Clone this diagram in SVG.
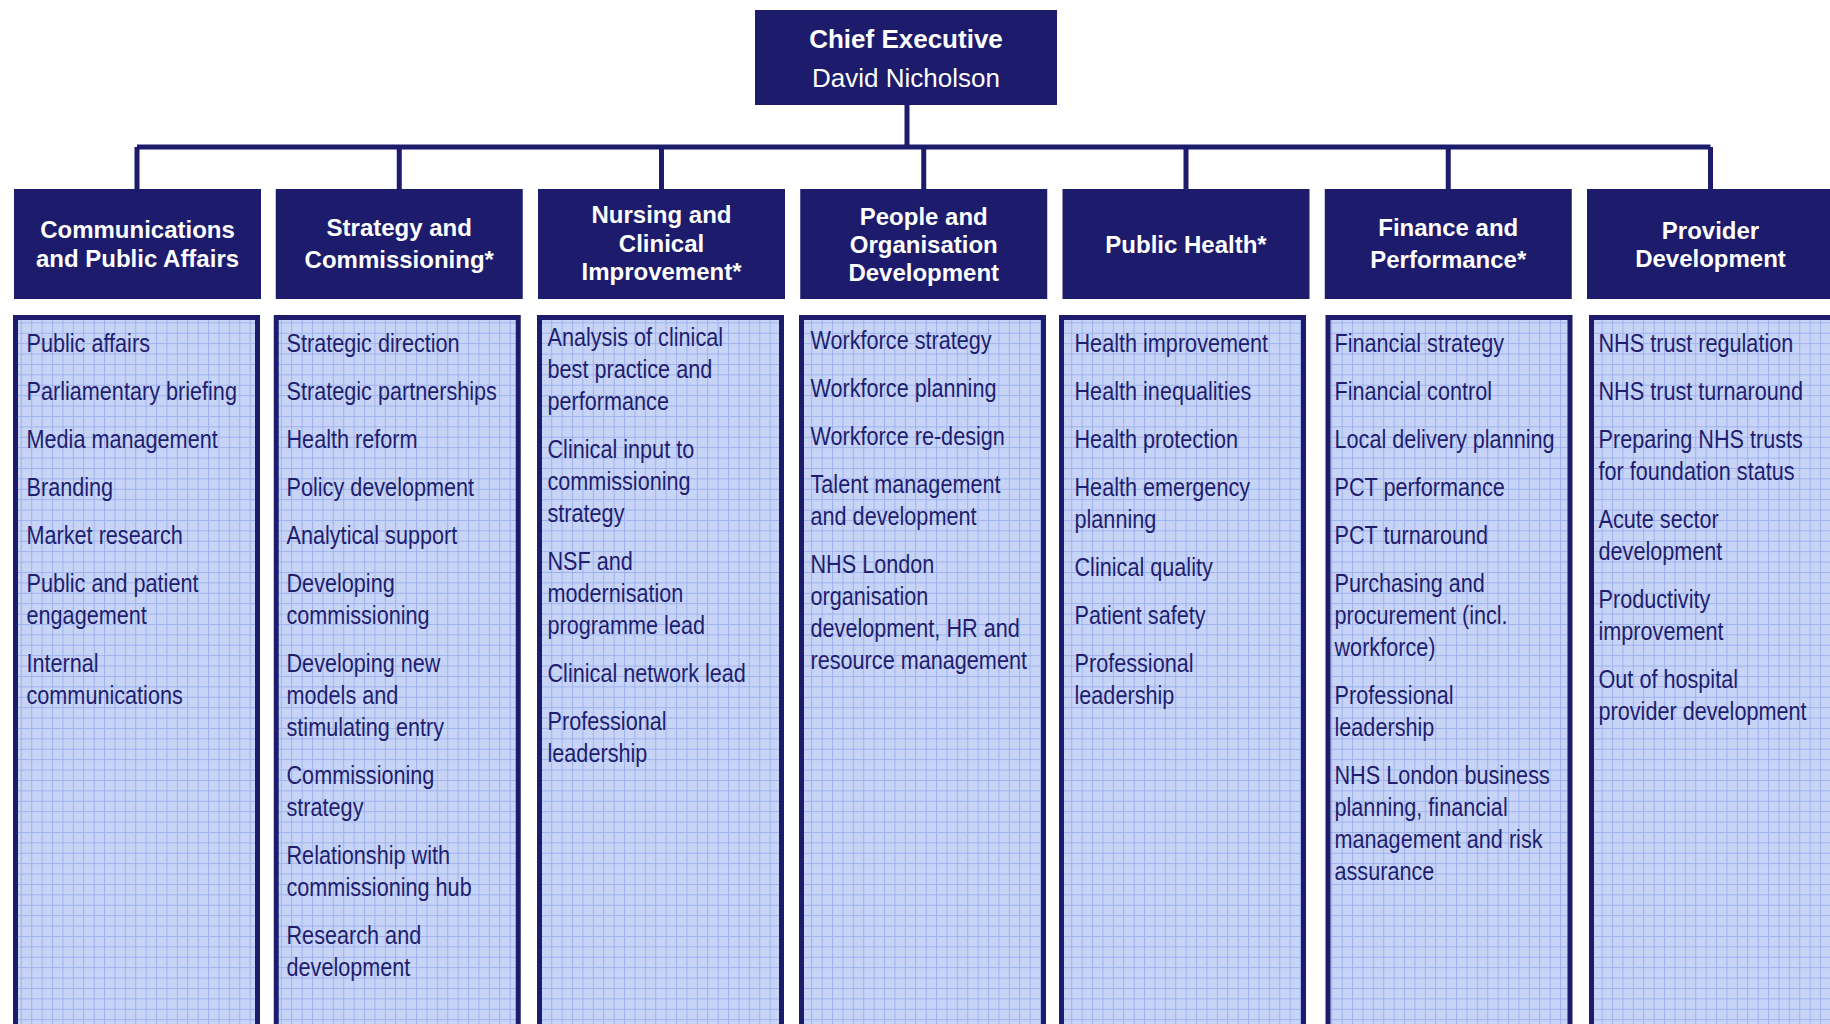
<svg xmlns="http://www.w3.org/2000/svg" width="1830" height="1024" viewBox="0 0 1830 1024">
<defs>
<pattern id="grid" x="0" y="0" width="10.4" height="10.4" patternUnits="userSpaceOnUse">
<rect width="10.4" height="10.4" fill="#c8d4f6"/>
<path d="M0 0.5H10.4M0.5 0V10.4" stroke="#9db2ef" stroke-width="1" fill="none"/>
</pattern>
</defs>
<style>
.hdr{fill:#1c1b6c}
.ht{fill:#ffffff;font-family:"Liberation Sans",Arial,sans-serif;font-weight:bold;font-size:24px;text-anchor:middle}
.ct{fill:#ffffff;font-family:"Liberation Sans",Arial,sans-serif;font-size:26px;text-anchor:middle}
.box{fill:url(#grid);stroke:#1c1b6c;stroke-width:5}
.it{fill:#1f1e6e;font-family:"Liberation Sans",Arial,sans-serif;font-size:26.4px}
.con{fill:none;stroke:#1c1b6c;stroke-width:5}
</style>
<rect width="1830" height="1024" fill="#ffffff"/>
<g id="connectors">
<path class="con" d="M907 105V147M137 147H1710.5M137 147V189M399.25 147V189M661.5 147V189M923.75 147V189M1186 147V189M1448.25 147V189M1710.5 147V189"/>
</g>
<g id="chief">
<rect class="hdr" x="755" y="10" width="302" height="95"/>
<text class="ht" x="906" y="48" style="font-size:26px">Chief Executive</text>
<text class="ct" x="906" y="87">David Nicholson</text>
</g>
<g id="comm">
<rect class="hdr" x="14" y="189" width="247" height="110"/>
<text class="ht" x="137.5" y="238">Communications</text>
<text class="ht" x="137.5" y="267">and Public Affairs</text>
<rect class="box" x="15.5" y="317.5" width="242" height="800"/>
<g transform="translate(26.5 0) scale(0.82 1)">
<text class="it" x="0" y="352">Public affairs</text>
<text class="it" x="0" y="400">Parliamentary briefing</text>
<text class="it" x="0" y="448">Media management</text>
<text class="it" x="0" y="496">Branding</text>
<text class="it" x="0" y="544">Market research</text>
<text class="it" x="0" y="592">Public and patient</text>
<text class="it" x="0" y="624">engagement</text>
<text class="it" x="0" y="672">Internal</text>
<text class="it" x="0" y="704">communications</text>
</g>
</g>
<g id="strategy">
<rect class="hdr" x="275.75" y="189" width="247" height="110"/>
<text class="ht" x="399.25" y="236">Strategy and</text>
<text class="ht" x="399.25" y="268">Commissioning*</text>
<rect class="box" x="276.25" y="317.5" width="242" height="800"/>
<g transform="translate(286.5 0) scale(0.82 1)">
<text class="it" x="0" y="352">Strategic direction</text>
<text class="it" x="0" y="400">Strategic partnerships</text>
<text class="it" x="0" y="448">Health reform</text>
<text class="it" x="0" y="496">Policy development</text>
<text class="it" x="0" y="544">Analytical support</text>
<text class="it" x="0" y="592">Developing</text>
<text class="it" x="0" y="624">commissioning</text>
<text class="it" x="0" y="672">Developing new</text>
<text class="it" x="0" y="704">models and</text>
<text class="it" x="0" y="736">stimulating entry</text>
<text class="it" x="0" y="784">Commissioning</text>
<text class="it" x="0" y="816">strategy</text>
<text class="it" x="0" y="864">Relationship with</text>
<text class="it" x="0" y="896">commissioning hub</text>
<text class="it" x="0" y="944">Research and</text>
<text class="it" x="0" y="976">development</text>
</g>
</g>
<g id="nursing">
<rect class="hdr" x="538" y="189" width="247" height="110"/>
<text class="ht" x="661.5" y="223">Nursing and</text>
<text class="ht" x="661.5" y="252">Clinical</text>
<text class="ht" x="661.5" y="280">Improvement*</text>
<rect class="box" x="539.5" y="317.5" width="242" height="800"/>
<g transform="translate(547.5 0) scale(0.82 1)">
<text class="it" x="0" y="346">Analysis of clinical</text>
<text class="it" x="0" y="378">best practice and</text>
<text class="it" x="0" y="410">performance</text>
<text class="it" x="0" y="458">Clinical input to</text>
<text class="it" x="0" y="490">commissioning</text>
<text class="it" x="0" y="522">strategy</text>
<text class="it" x="0" y="570">NSF and</text>
<text class="it" x="0" y="602">modernisation</text>
<text class="it" x="0" y="634">programme lead</text>
<text class="it" x="0" y="682">Clinical network lead</text>
<text class="it" x="0" y="730">Professional</text>
<text class="it" x="0" y="762">leadership</text>
</g>
</g>
<g id="people">
<rect class="hdr" x="800.25" y="189" width="247" height="110"/>
<text class="ht" x="923.75" y="225">People and</text>
<text class="ht" x="923.75" y="253">Organisation</text>
<text class="ht" x="923.75" y="281">Development</text>
<rect class="box" x="801.5" y="317.5" width="242" height="800"/>
<g transform="translate(810.5 0) scale(0.82 1)">
<text class="it" x="0" y="349">Workforce strategy</text>
<text class="it" x="0" y="397">Workforce planning</text>
<text class="it" x="0" y="445">Workforce re-design</text>
<text class="it" x="0" y="493">Talent management</text>
<text class="it" x="0" y="525">and development</text>
<text class="it" x="0" y="573">NHS London</text>
<text class="it" x="0" y="605">organisation</text>
<text class="it" x="0" y="637">development, HR and</text>
<text class="it" x="0" y="669">resource management</text>
</g>
</g>
<g id="publichealth">
<rect class="hdr" x="1062.5" y="189" width="247" height="110"/>
<text class="ht" x="1186" y="253">Public Health*</text>
<rect class="box" x="1061.5" y="317.5" width="242" height="800"/>
<g transform="translate(1074.5 0) scale(0.82 1)">
<text class="it" x="0" y="352">Health improvement</text>
<text class="it" x="0" y="400">Health inequalities</text>
<text class="it" x="0" y="448">Health protection</text>
<text class="it" x="0" y="496">Health emergency</text>
<text class="it" x="0" y="528">planning</text>
<text class="it" x="0" y="576">Clinical quality</text>
<text class="it" x="0" y="624">Patient safety</text>
<text class="it" x="0" y="672">Professional</text>
<text class="it" x="0" y="704">leadership</text>
</g>
</g>
<g id="finance">
<rect class="hdr" x="1324.75" y="189" width="247" height="110"/>
<text class="ht" x="1448.25" y="236">Finance and</text>
<text class="ht" x="1448.25" y="268">Performance*</text>
<rect class="box" x="1328" y="317.5" width="242" height="800"/>
<g transform="translate(1334.5 0) scale(0.82 1)">
<text class="it" x="0" y="352">Financial strategy</text>
<text class="it" x="0" y="400">Financial control</text>
<text class="it" x="0" y="448">Local delivery planning</text>
<text class="it" x="0" y="496">PCT performance</text>
<text class="it" x="0" y="544">PCT turnaround</text>
<text class="it" x="0" y="592">Purchasing and</text>
<text class="it" x="0" y="624">procurement (incl.</text>
<text class="it" x="0" y="656">workforce)</text>
<text class="it" x="0" y="704">Professional</text>
<text class="it" x="0" y="736">leadership</text>
<text class="it" x="0" y="784">NHS London business</text>
<text class="it" x="0" y="816">planning, financial</text>
<text class="it" x="0" y="848">management and risk</text>
<text class="it" x="0" y="880">assurance</text>
</g>
</g>
<g id="provider">
<rect class="hdr" x="1587" y="189" width="247" height="110"/>
<text class="ht" x="1710.5" y="239">Provider</text>
<text class="ht" x="1710.5" y="267">Development</text>
<rect class="box" x="1591.5" y="317.5" width="242" height="800"/>
<g transform="translate(1598.5 0) scale(0.82 1)">
<text class="it" x="0" y="352">NHS trust regulation</text>
<text class="it" x="0" y="400">NHS trust turnaround</text>
<text class="it" x="0" y="448">Preparing NHS trusts</text>
<text class="it" x="0" y="480">for foundation status</text>
<text class="it" x="0" y="528">Acute sector</text>
<text class="it" x="0" y="560">development</text>
<text class="it" x="0" y="608">Productivity</text>
<text class="it" x="0" y="640">improvement</text>
<text class="it" x="0" y="688">Out of hospital</text>
<text class="it" x="0" y="720">provider development</text>
</g>
</g>
</svg>
